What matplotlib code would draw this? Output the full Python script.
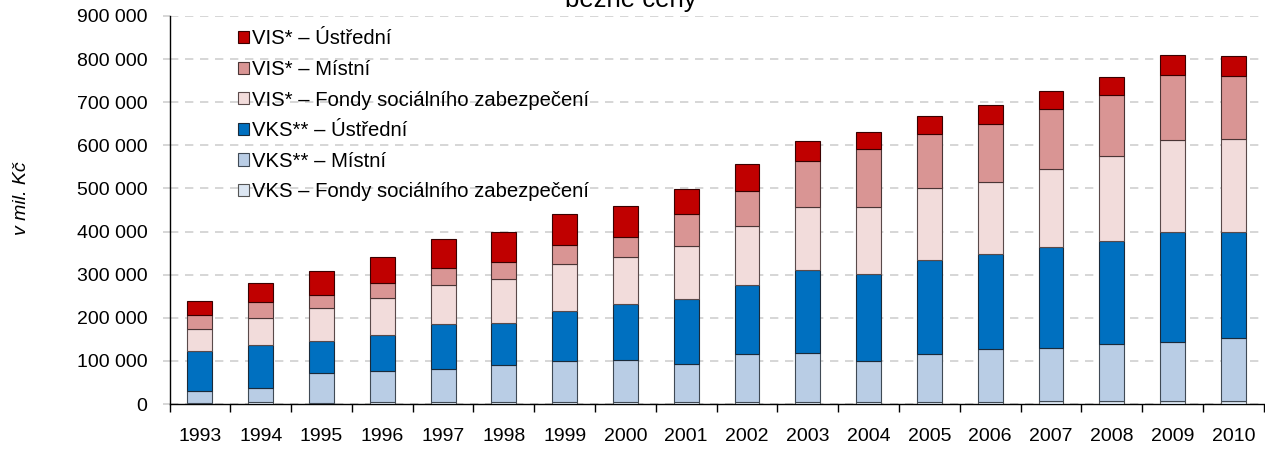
import matplotlib
matplotlib.use("Agg")
import matplotlib.pyplot as plt
from matplotlib.ticker import FuncFormatter, FixedLocator
import numpy as np

plt.rcParams['font.family'] = ['Liberation Sans', 'DejaVu Sans']

years = ['1993', '1994', '1995', '1996', '1997', '1998', '1999', '2000', '2001',
         '2002', '2003', '2004', '2005', '2006', '2007', '2008', '2009', '2010']

vks_fondy = [3, 5, 2, 4, 4, 4, 4, 4, 4, 4, 4, 4, 4, 4, 6, 7, 7, 8]
vks_mistni = [28, 32, 69, 72, 77, 86, 95, 99, 90, 111, 115, 96, 113, 124, 125, 132, 138, 145]
vks_ustredni = [91, 99, 76, 83, 104, 97, 117, 128, 149, 160, 191, 201, 218, 221, 232, 240, 254, 246]
vis_fondy = [53, 63, 75, 86, 92, 102, 108, 111, 123, 139, 146, 157, 165, 167, 181, 195, 214, 216]
vis_mistni = [32, 38, 31, 36, 39, 41, 44, 45, 74, 81, 107, 134, 126, 134, 139, 142, 150, 145]
vis_ustredni = [31, 43, 55, 61, 67, 69, 72, 72, 58, 62, 46, 38, 41, 44, 43, 43, 46, 48]

series = [
    ("VKS – Fondy sociálního zabezpečení", vks_fondy, '#DCE6F2', '#555555'),
    ("VKS** – Místní", vks_mistni, '#B9CDE5', '#404a55'),
    ("VKS** – Ústřední", vks_ustredni, '#0070C0', '#1a2a3a'),
    ("VIS* – Fondy sociálního zabezpečení", vis_fondy, '#F2DCDB', '#5a4a4a'),
    ("VIS* – Místní", vis_mistni, '#D99594', '#4a3535'),
    ("VIS* – Ústřední", vis_ustredni, '#C00000', '#3a0000'),
]

FS = 14
LFS = 14.6

fig = plt.figure(figsize=(12.65, 4.54), dpi=100)
ax = fig.add_axes([0.134, 0.110, 0.865, 0.855])

x = np.arange(len(years))
bottom = np.zeros(len(years))
handles = []
for label, vals, color, ec in series:
    v = np.array(vals) * 1000.0
    b = ax.bar(x, v, bottom=bottom, width=0.41, color=color, edgecolor=ec,
               linewidth=0.8, label=label, zorder=3)
    handles.append(b)
    bottom += v

ax.set_xlim(-0.5, len(years) - 0.5)
ax.set_ylim(0, 900000)
ax.set_yticks(np.arange(0, 900001, 100000))
ax.yaxis.set_major_formatter(FuncFormatter(lambda v, p: f"{int(v):,}".replace(",", " ")))
ax.grid(axis='y', color='#d0d0d0', linestyle=(0, (5, 4)), linewidth=1.2, zorder=0)

ax.set_xticks(x)
ax.set_xticklabels(years)
ax.xaxis.set_minor_locator(FixedLocator(np.arange(-0.5, len(years), 1.0)))
ax.tick_params(axis='x', which='major', length=0, pad=17, labelsize=FS)
ax.tick_params(axis='x', which='minor', length=6, width=1, color='black')
ax.tick_params(axis='y', length=5, color='#d0d0d0', width=1.2, labelsize=FS, pad=11)

for s in ['top', 'right']:
    ax.spines[s].set_visible(False)
ax.spines['left'].set_color('black')
ax.spines['bottom'].set_color('black')
ax.spines['left'].set_linewidth(1)
ax.spines['bottom'].set_linewidth(1)

fig.text(21 / 1265, 1 - 198 / 454, "v mil. Kč", fontstyle='italic', fontsize=FS,
         rotation=90, ha='center', va='center')

leg = ax.legend(handles[::-1], [s[0] for s in series][::-1], loc='upper left',
                bbox_to_anchor=(0.055, 0.986), frameon=False, fontsize=LFS,
                handlelength=0.55, handleheight=0.55, handletextpad=0.15,
                labelspacing=0.57, borderaxespad=0)

fig.text(631 / 1265, 1 - 7 / 454, "běžné ceny", ha='center', va='baseline', fontsize=18.5)

fig.savefig("out.png", dpi=100)
